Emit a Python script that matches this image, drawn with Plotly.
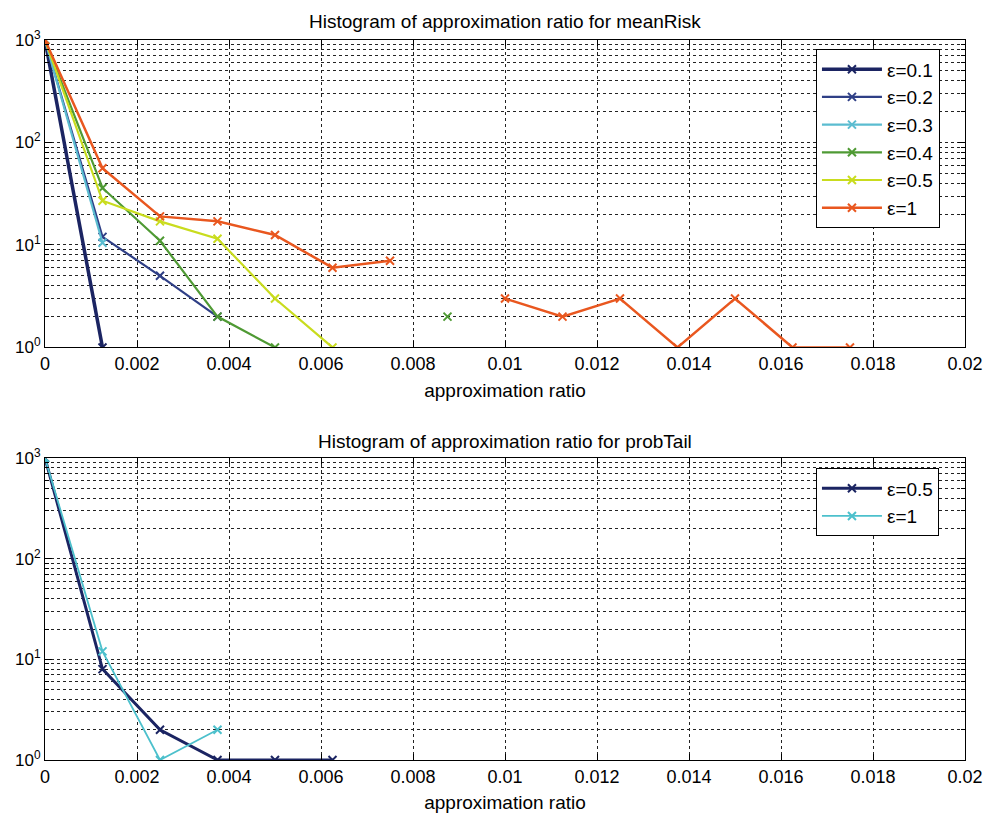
import plotly.graph_objects as go

# bin centres (approximation ratio)
bins = [0, 0.00125, 0.0025, 0.00375, 0.005, 0.00625, 0.0075, 0.00875,
        0.01, 0.01125, 0.0125, 0.01375, 0.015, 0.01625, 0.0175]

# meanRisk histogram counts (None = empty bin)
mr_labels = ["ε=0.1", "ε=0.2", "ε=0.3", "ε=0.4", "ε=0.5", "ε=1"]
mr_e01 = [1000, 1]
mr_e02 = [1000, 12, 5, 2]
mr_e03 = [1000, 10.5]
mr_e04 = [1000, 36, 11, 2, 1, None, None, 2]
mr_e05 = [1000, 27, 17, 11.5, 3, 1]
mr_e1 = [1000, 56, 19, 17, 12.5, 6, 7, None, 3, 2, 3, 1, 3, 1, 1]
mr_series = [mr_e01, mr_e02, mr_e03, mr_e04, mr_e05, mr_e1]
mr_colors = ["#1b2462", "#2f3f86", "#5bbcd0", "#4f9a34", "#c9dc1e", "#e9571f"]
mr_widths = [3.5, 2.2, 2.2, 2.2, 2.2, 2.5]

# probTail histogram counts
pt_labels = ["ε=0.5", "ε=1"]
pt_e05 = [1000, 8, 2, 1, 1, 1]
pt_e1 = [1000, 12, 1, 2]
pt_series = [pt_e05, pt_e1]
pt_colors = ["#1b2462", "#4cc0cc"]
pt_widths = [3, 1.8]

# axis ticks
x_ticks = [i * 0.002 for i in range(11)]
x_ticktext = ["0", "0.002", "0.004", "0.006", "0.008", "0.01",
              "0.012", "0.014", "0.016", "0.018", "0.02"]
y_ticks = [1, 10, 100, 1000]
y_ticktext = ["10<sup>0</sup>", "10<sup>1</sup>", "10<sup>2</sup>", "10<sup>3</sup>"]
y_minor = [d * m for d in [1, 10, 100] for m in range(2, 10)]

fig = go.Figure()

for lab, ys, c, w in zip(mr_labels, mr_series, mr_colors, mr_widths):
    fig.add_trace(go.Scatter(
        x=bins[:len(ys)], y=ys, mode="lines+markers", name=lab,
        line=dict(color=c, width=w), connectgaps=False,
        marker=dict(symbol="x-thin", size=8, line=dict(width=2, color=c)),
        xaxis="x", yaxis="y", legend="legend"))

for lab, ys, c, w in zip(pt_labels, pt_series, pt_colors, pt_widths):
    fig.add_trace(go.Scatter(
        x=bins[:len(ys)], y=ys, mode="lines+markers", name=lab,
        line=dict(color=c, width=w), connectgaps=False,
        marker=dict(symbol="x-thin", size=8, line=dict(width=2, color=c)),
        xaxis="x2", yaxis="y2", legend="legend2"))

font_main = "Liberation Sans, Arial, sans-serif"

xcommon = dict(range=[0, 0.02], tickvals=x_ticks, ticktext=x_ticktext,
               ticks="inside", ticklen=6, tickcolor="black",
               showline=True, linecolor="black", linewidth=1, mirror="ticks",
               showgrid=True, gridcolor="#222222", griddash="dot", gridwidth=1,
               zeroline=False, tickfont=dict(size=18, color="black"),
               title=dict(text="approximation ratio", font=dict(size=19, color="black"), standoff=10))
ycommon = dict(type="log", range=[0, 3], tickvals=y_ticks, ticktext=y_ticktext,
               ticks="inside", ticklen=7, tickcolor="black",
               showline=True, linecolor="black", linewidth=1, mirror="ticks",
               showgrid=True, gridcolor="#222222", griddash="dot", gridwidth=1,
               minor=dict(tickmode="array", tickvals=y_minor, ticks="inside", ticklen=4,
                          tickcolor="black", showgrid=True, gridcolor="#222222",
                          griddash="dot", gridwidth=1),
               zeroline=False, tickfont=dict(size=17, color="black"))

fig.update_layout(
    width=995, height=822,
    margin=dict(l=45, r=20, t=40, b=62),
    paper_bgcolor="white", plot_bgcolor="white",
    font=dict(family=font_main, color="black"),
    xaxis=dict(domain=[0, 1], anchor="y", **xcommon),
    yaxis=dict(domain=[0.5730, 1], anchor="x", **ycommon),
    xaxis2=dict(domain=[0, 1], anchor="y2", **xcommon),
    yaxis2=dict(domain=[0, 0.4194], anchor="x2", **ycommon),
    legend=dict(x=0.838, y=0.987, xanchor="left", yanchor="top",
                bgcolor="white", bordercolor="black", borderwidth=1,
                font=dict(size=19, color="black"), itemwidth=60),
    legend2=dict(x=0.838, y=0.4050, xanchor="left", yanchor="top",
                 bgcolor="white", bordercolor="black", borderwidth=1,
                 font=dict(size=19, color="black"), itemwidth=60),
    annotations=[
        dict(text="Histogram of approximation ratio for meanRisk", x=0.5, y=1,
             xref="paper", yref="paper", yshift=6, xanchor="center", yanchor="bottom",
             showarrow=False, font=dict(size=19, color="black")),
        dict(text="Histogram of approximation ratio for probTail", x=0.5, y=0.4194,
             xref="paper", yref="paper", yshift=4, xanchor="center", yanchor="bottom",
             showarrow=False, font=dict(size=19, color="black")),
    ],
    showlegend=True,
)

fig.write_html("out.html")
